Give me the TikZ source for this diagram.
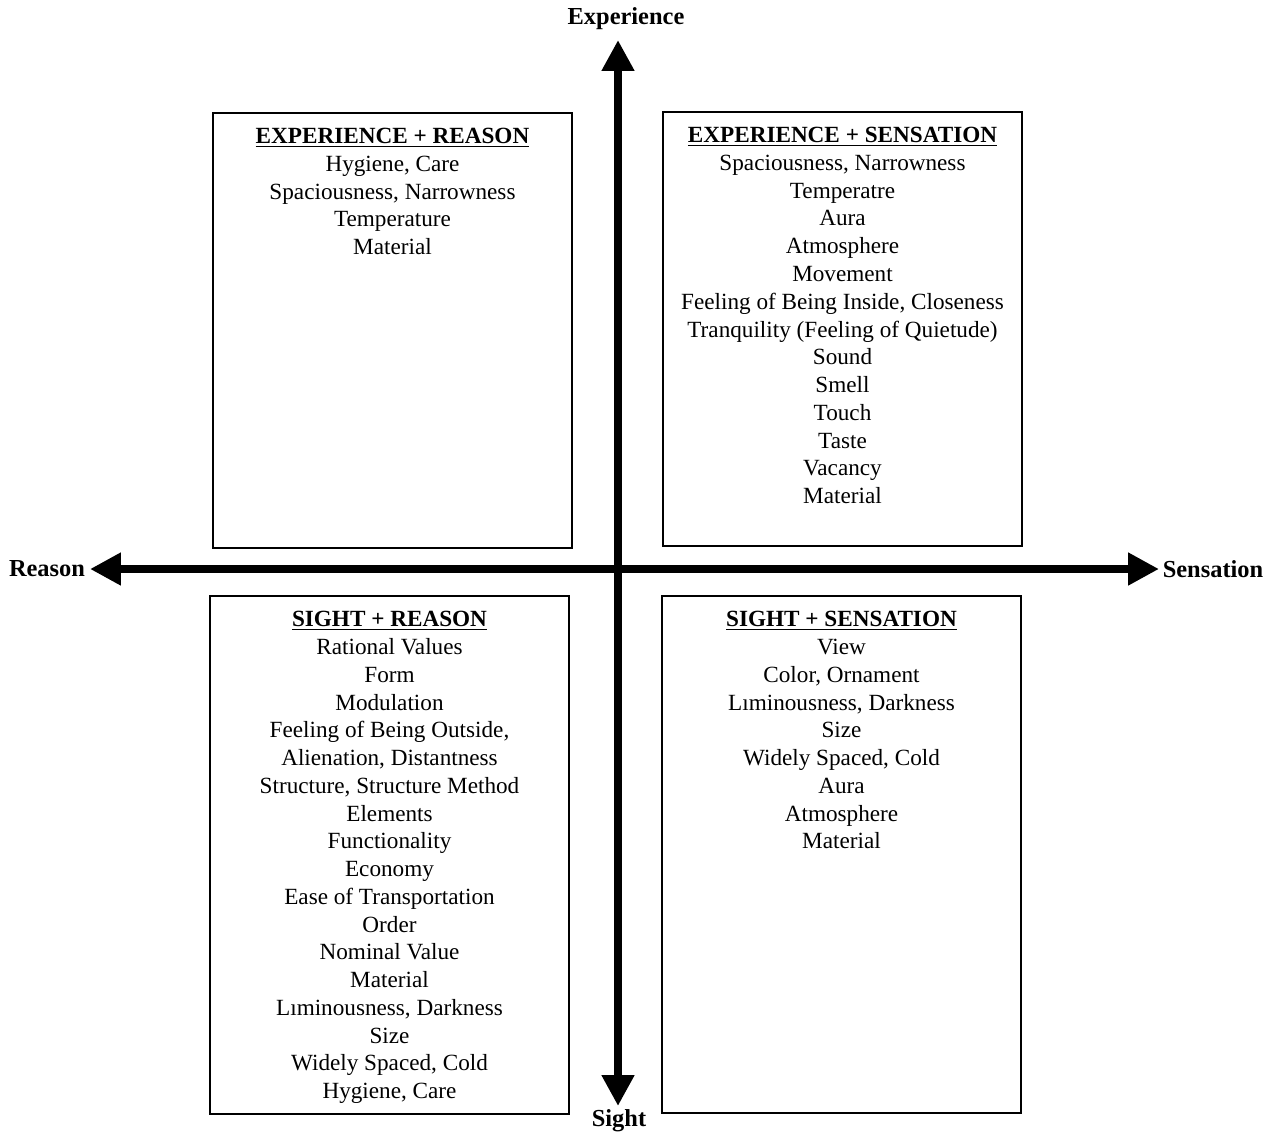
\documentclass[tikz,border=0pt]{standalone}
\usepackage{fontspec}
\setmainfont{Liberation Serif}
\usetikzlibrary{arrows.meta, positioning, calc}
\newcommand\BoxFont{\fontsize{13.2}{15.8}\selectfont}
\newcommand\AxisFont{\fontsize{13.9}{16}\selectfont\bfseries}
\newcommand\QuadBox[5]{%
\node[quadbox, minimum width={(#4-#2)*0.02cm}, minimum height={(#5-#3)*0.02cm}] (#1) at (#2,#3) {};
}
\tikzset{
  quadbox/.style={draw, rectangle, line width=0.9pt, inner sep=0pt, outer sep=0pt, anchor=north west},
  boxtext/.style={anchor=north, align=center, inner sep=0pt, font=\BoxFont},
  axislabel/.style={font=\AxisFont, inner sep=0pt},
  axis/.style={line width=0.16cm, {Triangle[width=0.62cm,length=0.62cm]}-{Triangle[width=0.62cm,length=0.62cm]}}
}

\begin{document}
\begin{tikzpicture}[x=0.02cm, y=-0.02cm]
  \useasboundingbox (0,0) rectangle (1273,1133);

  % axes
  \coordinate (expTip) at (618,40);
  \coordinate (sightTip) at (618,1106);
  \coordinate (reasonTip) at (90,569);
  \coordinate (sensTip) at (1159,569);
  \draw[axis] (sightTip) -- (expTip);
  \draw[axis] (reasonTip) -- (sensTip);

  \node[axislabel] (experience) at (626,19) {Experience};
  \node[axislabel] (reason) at (47,569) {Reason};
  \node[axislabel] (sensation) at (1213,569) {Sensation};
  \node[axislabel] (sight) at (619,1121) {Sight};

  % quadrant boxes
  \QuadBox{er}{213}{113}{572}{548}
  \QuadBox{es}{663}{112}{1022}{546}
  \QuadBox{sr}{210}{596}{569}{1114}
  \QuadBox{ss}{662}{596}{1021}{1113}

  \node[boxtext] (erText) at ($(er.north)+(0,15)$) {%
    \underline{\textbf{EXPERIENCE + REASON}}\\
    Hygiene, Care\\
    Spaciousness, Narrowness\\
    Temperature\\
    Material};

  \node[boxtext] (esText) at ($(es.north)+(0,15)$) {%
    \underline{\textbf{EXPERIENCE + SENSATION}}\\
    Spaciousness, Narrowness\\
    Temperatre\\
    Aura\\
    Atmosphere\\
    Movement\\
    Feeling of Being Inside, Closeness\\
    Tranquility (Feeling of Quietude)\\
    Sound\\
    Smell\\
    Touch\\
    Taste\\
    Vacancy\\
    Material};

  \node[boxtext] (srText) at ($(sr.north)+(0,15)$) {%
    \underline{\textbf{SIGHT + REASON}}\\
    Rational Values\\
    Form\\
    Modulation\\
    Feeling of Being Outside,\\
    Alienation, Distantness\\
    Structure, Structure Method\\
    Elements\\
    Functionality\\
    Economy\\
    Ease of Transportation\\
    Order\\
    Nominal Value\\
    Material\\
    L\i minousness, Darkness\\
    Size\\
    Widely Spaced, Cold\\
    Hygiene, Care};

  \node[boxtext] (ssText) at ($(ss.north)+(0,15)$) {%
    \underline{\textbf{SIGHT + SENSATION}}\\
    View\\
    Color, Ornament\\
    L\i minousness, Darkness\\
    Size\\
    Widely Spaced, Cold\\
    Aura\\
    Atmosphere\\
    Material};
\end{tikzpicture}
\end{document}
